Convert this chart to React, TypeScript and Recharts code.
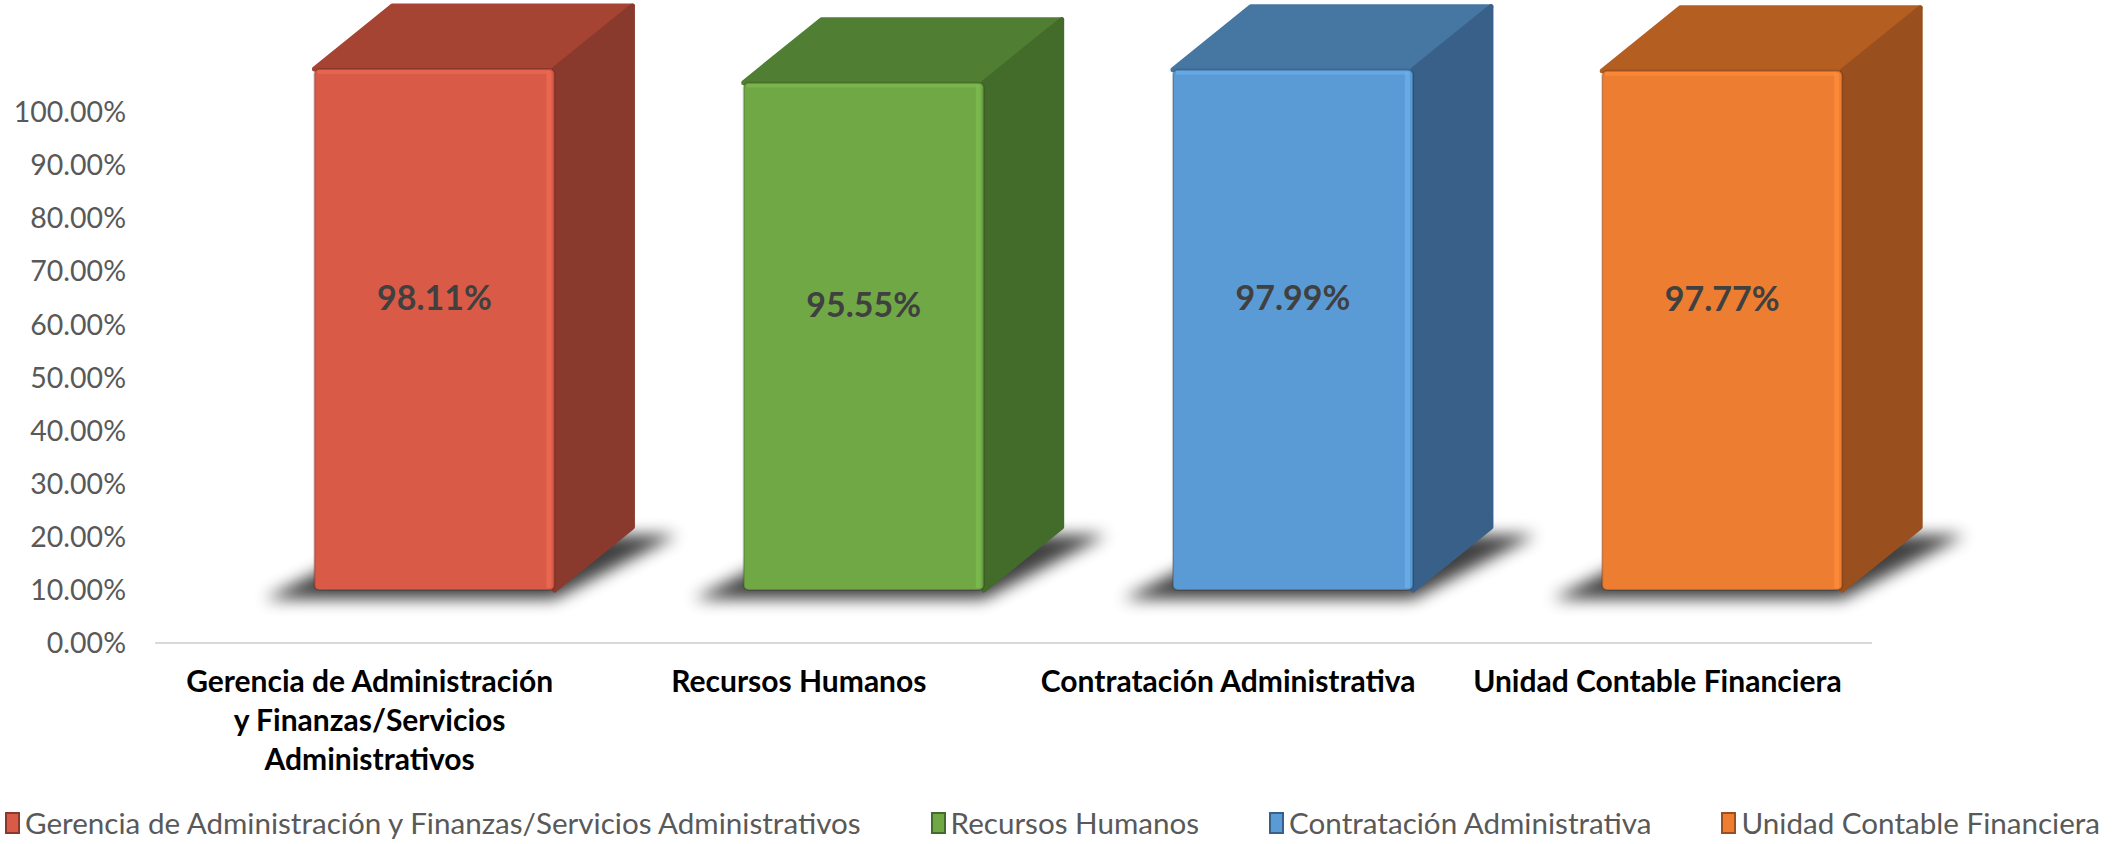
import React from 'react';
import { BarChart, Bar, XAxis, YAxis } from 'recharts';

const categories = [
  'Gerencia de Administración y Finanzas/Servicios Administrativos',
  'Recursos Humanos',
  'Contratación Administrativa',
  'Unidad Contable Financiera',
];
const values = [98.11, 95.55, 97.99, 97.77];
const yTicks = [0, 10, 20, 30, 40, 50, 60, 70, 80, 90, 100];

const FRONT = ['#D95B47', '#6FA845', '#5B9BD5', '#ED7D31'];
const TOP = ['#A64434', '#507F33', '#4676A2', '#B45E21'];
const SIDE = ['#8A3A2D', '#436B2A', '#386088', '#9A4F1E'];
const EDGE = ['#EB6A52', '#7DBA4F', '#6BAEE8', '#FF8C3A'];

const FONT = 'Lato, "Open Sans", sans-serif';
// 3d projection offsets
const SHIFT_X = 65;
const SHIFT_Y = -53;
const DX = 78;
const DY = 63;

const data = categories.map((name, i) => ({ name, value: values[i] }));

function wrap(text: string, max: number) {
  const lines: string[] = [];
  let cur = '';
  text.split(' ').forEach((w) => {
    const next = cur ? cur + ' ' + w : w;
    if (next.length > max && cur) {
      lines.push(cur);
      cur = w;
    } else cur = next;
  });
  if (cur) lines.push(cur);
  return lines;
}

function CatTick(props: any) {
  const { x, y, payload } = props;
  const lines = wrap(payload.value, 27);
  return (
    <text x={x} y={y + 49} textAnchor="middle" fontFamily={FONT} fontWeight={700} fontSize={30} fill="#000">
      {lines.map((l, i) => (
        <tspan key={i} x={x} dy={i === 0 ? 0 : 39}>{l}</tspan>
      ))}
    </text>
  );
}

function Box(props: any) {
  const { x, y, width: w, height: h, index, value } = props;
  const fx = x + SHIFT_X;
  const fy = y + SHIFT_Y;
  const by = fy + h;
  const shadow = `${fx - 50},${by + 9} ${fx + w},${by + 9} ${fx + w + DX + 45},${by - DY + 8} ${fx + DX},${by - DY + 8}`;
  const top = `${fx},${fy} ${fx + DX},${fy - DY} ${fx + w + DX},${fy - DY} ${fx + w},${fy}`;
  const side = `${fx + w},${fy} ${fx + w + DX},${fy - DY} ${fx + w + DX},${by - DY} ${fx + w},${by}`;
  return (
    <g>
      <polygon points={shadow} fill="#000" opacity={0.75} filter="url(#boxShadow)" />
      <polygon points={top} fill={TOP[index]} stroke={TOP[index]} strokeLinejoin="round" strokeWidth={5} />
      <polygon points={side} fill={SIDE[index]} stroke={SIDE[index]} strokeLinejoin="round" strokeWidth={5} />
      <rect x={fx} y={fy} width={w} height={h} rx={5} fill={FRONT[index]} />
      <rect x={fx + w - 8} y={fy + 2} width={5} height={h - 4} fill={EDGE[index]} opacity={0.8} />
      <rect x={fx + 3} y={fy + 1} width={w - 8} height={4} fill={EDGE[index]} opacity={0.7} />
      <rect x={fx} y={fy} width={w} height={h} rx={5} fill="none" stroke="#000" strokeOpacity={0.18} strokeWidth={2} />
      <text
        x={fx + w / 2}
        y={(fy - DY + by) / 2 + 12}
        textAnchor="middle"
        fontFamily={FONT}
        fontWeight={700}
        fontSize={34}
        fill="#404040"
      >
        {value.toFixed(2)}%
      </text>
    </g>
  );
}

export default function App() {
  return (
    <div style={{ position: 'absolute', left: 0, top: 0, width: 2117, height: 844, background: '#fff' }}>
      <BarChart width={2117} height={844} data={data} margin={{ top: 112, right: 245, bottom: 51, left: 0 }} barCategoryGap="22%">
        <defs>
          <filter id="boxShadow" x="-30%" y="-100%" width="160%" height="300%">
            <feGaussianBlur stdDeviation="8" />
          </filter>
        </defs>
        <XAxis
          dataKey="name"
          height={150}
          interval={0}
          tick={<CatTick />}
          tickLine={false}
          tickSize={0}
          tickMargin={0}
          axisLine={{ stroke: '#D9D9D9', strokeWidth: 2 }}
        />
        <YAxis
          width={155}
          domain={[0, 100]}
          ticks={yTicks}
          tickFormatter={(v: number) => v.toFixed(2) + '%'}
          axisLine={false}
          tickLine={false}
          tickSize={0}
          tickMargin={29}
          tick={{ fill: '#595959', fontSize: 28.5, fontFamily: FONT }}
        />
        <Bar dataKey="value" shape={<Box />} isAnimationActive={false} />
      </BarChart>
      <div
        style={{
          position: 'absolute',
          left: 5,
          top: 805,
          display: 'flex',
          gap: 70,
          fontFamily: FONT,
          fontSize: 29.6,
          color: '#595959',
          whiteSpace: 'nowrap',
        }}
      >
        {categories.map((c, i) => (
          <div key={c} style={{ display: 'flex', alignItems: 'center', gap: 5 }}>
            <span
              style={{
                display: 'inline-block',
                width: 11,
                height: 18,
                background: FRONT[i],
                border: `2px solid ${SIDE[i]}`,
              }}
            />
            <span>{c}</span>
          </div>
        ))}
      </div>
    </div>
  );
}
